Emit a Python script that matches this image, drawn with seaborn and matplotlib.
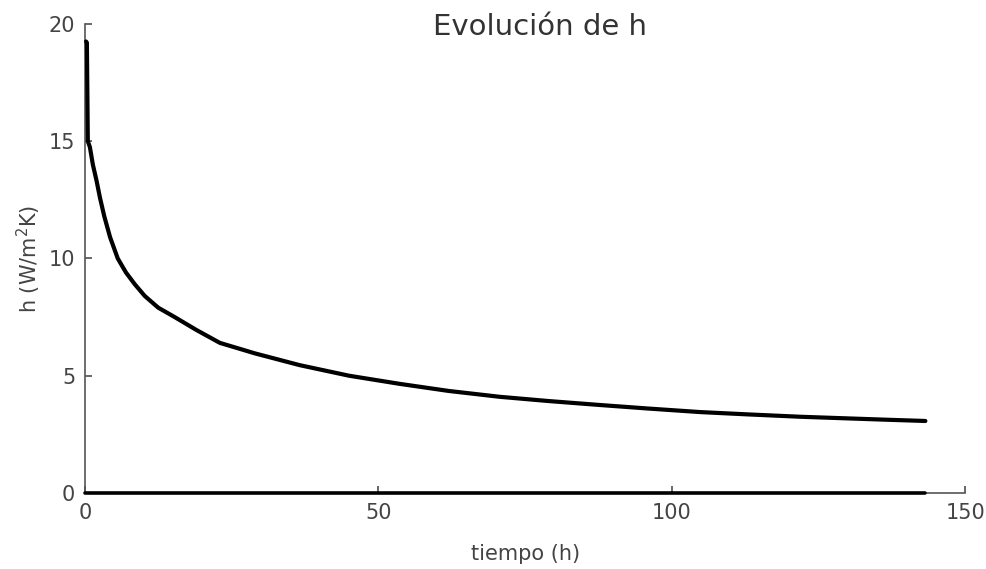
import numpy as np
import pandas as pd
import seaborn as sns
import matplotlib.pyplot as plt

# Datos
tiempo = [0.2, 0.34, 0.5, 0.85, 1.36, 2.0, 2.56, 3.3, 4.3, 5.6, 7.0, 8.5, 10.2,
          12.5, 15.3, 19.0, 23.0, 29.0, 36.6, 45.0, 53.7, 62.0, 70.7, 79.0,
          87.8, 96.0, 104.8, 113.0, 121.9, 130.0, 137.0, 143.2]
h = [19.25, 19.2, 15.0, 14.75, 14.0, 13.3, 12.6, 11.8, 10.9, 10.0, 9.4, 8.9, 8.4,
     7.9, 7.5, 6.95, 6.4, 5.95, 5.45, 5.0, 4.65, 4.35, 4.1, 3.92,
     3.75, 3.6, 3.45, 3.35, 3.25, 3.18, 3.12, 3.07]
t_base = [0.0, 143.2]
base = [0.0, 0.0]

df = pd.DataFrame({'tiempo': tiempo, 'h': h})
df_base = pd.DataFrame({'tiempo': t_base, 'h': base})

sns.set_theme(style='ticks')
plt.rcParams['font.family'] = ['DejaVu Sans']

fig = plt.figure(figsize=(9.87, 5.69), dpi=100)
ax = fig.add_axes([0.086, 0.1336, 0.892, 0.8244])

sns.lineplot(data=df, x='tiempo', y='h', color='black', linewidth=3, ax=ax)
sns.lineplot(data=df_base, x='tiempo', y='h', color='black', linewidth=2.6, ax=ax)
for ln in ax.lines:
    ln.set_clip_on(False)
    ln.set_zorder(3)

ax.set_xlim(0, 150)
ax.set_ylim(0, 20)
ax.set_xticks([0, 50, 100, 150])
ax.set_yticks([0, 5, 10, 15, 20])
sns.despine(ax=ax)
for s in ['left', 'bottom']:
    ax.spines[s].set_color('#555555')
    ax.spines[s].set_linewidth(1.2)
ax.tick_params(direction='in', length=5, colors='#555555', labelsize=15,
               labelcolor='#444444', pad=7)

ax.set_xlabel('tiempo (h)', fontsize=15, color='#444444', labelpad=15)
ax.set_ylabel('h (W/m$^2$K)', fontsize=15, color='#444444', labelpad=4)
ax.text(0.517, 0.976, 'Evolución de h', transform=ax.transAxes, ha='center',
        va='baseline', fontsize=21, color='#333333')

fig.savefig('out.png', dpi=100)
